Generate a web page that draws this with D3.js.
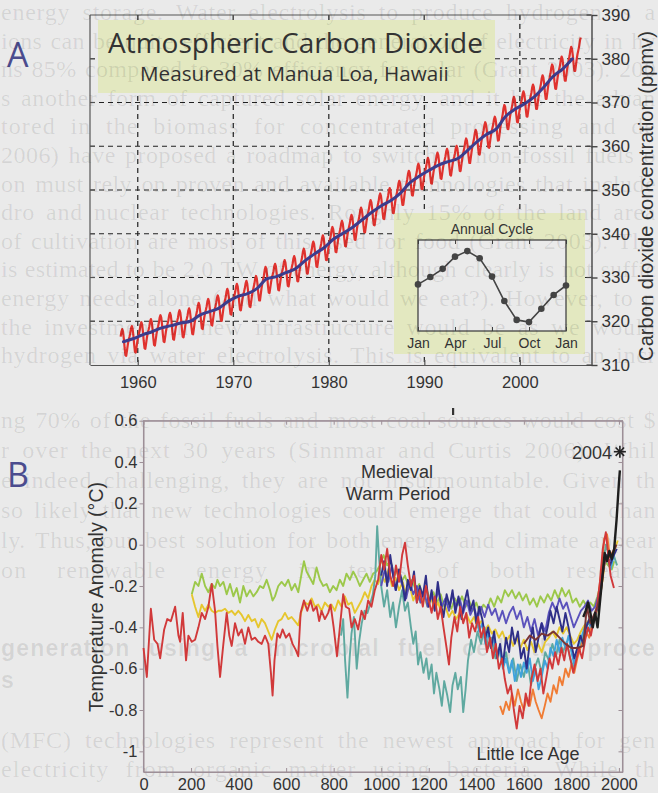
<!DOCTYPE html>
<html>
<head>
<meta charset="utf-8">
<script src="https://cdn.jsdelivr.net/npm/d3@7"></script>
<style>
  body { margin: 0; background: #eaeaea; }
  svg { display: block; }
</style>
</head>
<body>
<div id="chart"></div>
<script>
// ---------- panel A data: Mauna Loa CO2 (ppmv) ----------
const co2Years = [1958, 1959, 1960, 1961, 1962, 1963, 1964, 1965, 1966, 1967, 1968, 1969,
  1970, 1971, 1972, 1973, 1974, 1975, 1976, 1977, 1978, 1979, 1980, 1981, 1982, 1983,
  1984, 1985, 1986, 1987, 1988, 1989, 1990, 1991, 1992, 1993, 1994, 1995, 1996, 1997,
  1998, 1999, 2000, 2001, 2002, 2003, 2004, 2005, 2006];
const co2Annual = [315.3, 316.0, 316.9, 317.6, 318.5, 319.0, 319.6, 320.0, 321.4, 322.2,
  323.0, 324.6, 325.7, 326.3, 327.5, 329.7, 330.2, 331.1, 332.0, 333.8, 335.4, 336.8,
  338.8, 340.1, 341.5, 343.2, 344.9, 346.4, 347.6, 349.3, 351.7, 353.2, 354.5, 355.7,
  356.5, 357.2, 359.0, 361.0, 362.7, 363.9, 366.8, 368.5, 369.7, 371.3, 373.5, 376.0,
  377.7, 380.0, 382.1];
const trendLastYear = 2005;
const monthlyStart = 1958.2, monthlyEnd = 2006.4;

// annual cycle (deviation from yearly mean, ppmv), Jan..Dec, Jan
const cycleMonths = ["Jan", "Feb", "Mar", "Apr", "May", "Jun", "Jul", "Aug", "Sep", "Oct", "Nov", "Dec", "Jan"];
const cycleValues = [0, 0.66, 1.4, 2.5, 3.0, 2.35, 0.7, -1.5, -3.2, -3.4, -2.2, -0.95, -0.1];
const cycleTicks = [0, 3, 6, 9, 12];

const aTicksY = [310, 320, 330, 340, 350, 360, 370, 380, 390];
const aGridY = [320, 330, 340, 350, 360, 370, 380];
const aTicksX = [1960, 1970, 1980, 1990, 2000];

// ---------- panel B data: temperature reconstructions (year, deg C) ----------
const moberg = [[0,-0.50],[14,-0.64],[31,-0.31],[45,-0.46],[59,-0.48],[70,-0.55],[87,-0.41],[100,-0.36],
  [115,-0.37],[133,-0.30],[147,-0.44],[154,-0.47],[165,-0.33],[179,-0.56],[189,-0.44],[203,-0.47],
  [217,-0.46],[231,-0.40],[245,-0.33],[259,-0.36],[273,-0.30],[287,-0.19],[301,-0.32],[311,-0.49],
  [322,-0.64],[336,-0.48],[350,-0.33],[361,-0.44],[371,-0.49],[385,-0.38],[399,-0.44],[413,-0.41],
  [427,-0.48],[441,-0.40],[455,-0.46],[469,-0.45],[483,-0.47],[497,-0.48],[511,-0.44],[525,-0.48],
  [536,-0.62],[543,-0.73],[551,-0.56],[563,-0.43],[574,-0.45],[585,-0.41],[599,-0.45],[613,-0.43],
  [627,-0.48],[641,-0.51],[651,-0.54],[661,-0.33],[675,-0.27],[689,-0.32],[703,-0.27],[714,-0.32],
  [728,-0.30],[739,-0.37],[749,-0.32],[763,-0.36],[777,-0.33],[787,-0.29],[800,-0.40],[814,-0.54],
  [826,-0.40],[840,-0.24],[851,-0.30],[865,-0.31],[875,-0.40],[889,-0.36],[903,-0.41],[917,-0.32],
  [931,-0.36],[945,-0.27],[959,-0.30],[973,-0.22],[987,-0.17],[1000,-0.05],[1012,-0.12],[1025,-0.02],
  [1038,-0.15],[1050,-0.20],[1062,-0.10],[1075,-0.18],[1088,-0.05],[1100,0.01],[1112,-0.10],[1125,-0.20],
  [1138,-0.15],[1150,-0.28],[1162,-0.22],[1175,-0.30],[1188,-0.20],[1200,-0.27],[1212,-0.33],[1225,-0.25],
  [1238,-0.36],[1250,-0.30],[1262,-0.40],[1275,-0.50],[1285,-0.58],[1295,-0.45],[1308,-0.35],[1320,-0.42],
  [1332,-0.30],[1345,-0.38],[1358,-0.33],[1370,-0.45],[1382,-0.38],[1395,-0.42],[1408,-0.35],[1420,-0.45],
  [1432,-0.40],[1445,-0.52],[1458,-0.45],[1470,-0.55],[1482,-0.48],[1495,-0.60],[1508,-0.55],[1520,-0.65],
  [1532,-0.72],[1545,-0.68],[1558,-0.80],[1570,-0.89],[1582,-0.78],[1595,-0.84],[1608,-0.72],[1620,-0.78],
  [1632,-0.65],[1645,-0.58],[1658,-0.66],[1670,-0.60],[1682,-0.72],[1695,-0.64],[1708,-0.55],[1720,-0.60],
  [1732,-0.52],[1745,-0.58],[1758,-0.50],[1770,-0.56],[1782,-0.48],[1795,-0.55],[1808,-0.62],[1820,-0.56],
  [1832,-0.50],[1845,-0.55],[1858,-0.46],[1870,-0.40],[1882,-0.44],[1895,-0.36],[1908,-0.30],[1920,-0.18],
  [1932,-0.02],[1945,0.06],[1955,-0.05],[1965,-0.15],[1979,-0.21]];

const mannJones = [[203,-0.24],[217,-0.18],[231,-0.20],[245,-0.14],[259,-0.20],[273,-0.23],[287,-0.19],
  [301,-0.21],[311,-0.17],[322,-0.20],[336,-0.18],[350,-0.24],[364,-0.19],[378,-0.25],[392,-0.21],
  [406,-0.28],[420,-0.20],[434,-0.25],[448,-0.22],[462,-0.25],[476,-0.23],[490,-0.20],[504,-0.21],
  [518,-0.17],[532,-0.22],[543,-0.27],[553,-0.25],[567,-0.20],[581,-0.18],[595,-0.20],[609,-0.17],
  [623,-0.22],[637,-0.19],[651,-0.23],[665,-0.14],[675,-0.08],[686,-0.13],[700,-0.16],[714,-0.19],
  [728,-0.11],[742,-0.17],[756,-0.20],[770,-0.19],[784,-0.23],[798,-0.20],[812,-0.22],[826,-0.17],
  [840,-0.20],[854,-0.14],[868,-0.17],[882,-0.13],[896,-0.16],[910,-0.20],[924,-0.17],[938,-0.14],
  [952,-0.18],[966,-0.14],[980,-0.13],[994,-0.10],[1010,-0.05],[1025,-0.10],[1040,-0.08],[1055,-0.15],
  [1070,-0.12],[1085,-0.18],[1100,-0.15],[1115,-0.20],[1130,-0.17],[1145,-0.22],[1160,-0.19],[1175,-0.25],
  [1190,-0.21],[1205,-0.27],[1220,-0.23],[1235,-0.28],[1250,-0.24],[1265,-0.30],[1280,-0.27],[1295,-0.31],
  [1310,-0.26],[1325,-0.29],[1340,-0.25],[1355,-0.30],[1370,-0.27],[1385,-0.32],[1400,-0.28],[1415,-0.33],
  [1430,-0.29],[1445,-0.31],[1460,-0.26],[1475,-0.30],[1490,-0.25],[1505,-0.28],[1520,-0.22],[1535,-0.25],
  [1550,-0.22],[1565,-0.26],[1580,-0.23],[1595,-0.27],[1610,-0.24],[1625,-0.29],[1640,-0.26],[1655,-0.30],
  [1670,-0.25],[1685,-0.28],[1700,-0.24],[1715,-0.27],[1730,-0.22],[1745,-0.26],[1760,-0.21],[1775,-0.25],
  [1790,-0.22],[1805,-0.28],[1820,-0.26],[1835,-0.30],[1850,-0.27],[1865,-0.30],[1880,-0.28],[1895,-0.30],
  [1910,-0.25],[1925,-0.18],[1940,-0.08],[1955,-0.10],[1970,-0.12],[1980,-0.08]];

const jonesMann = [[203,-0.24],[217,-0.30],[231,-0.35],[245,-0.29],[259,-0.32],[273,-0.29],[287,-0.32],
  [301,-0.33],[315,-0.32],[329,-0.32],[343,-0.31],[357,-0.33],[371,-0.32],[385,-0.34],[399,-0.32],
  [413,-0.34],[427,-0.37],[441,-0.34],[455,-0.37],[469,-0.36],[483,-0.40],[497,-0.36],[511,-0.38],
  [525,-0.42],[539,-0.46],[553,-0.41],[567,-0.37],[581,-0.36],[595,-0.33],[609,-0.36],[623,-0.35],
  [637,-0.37],[651,-0.39],[665,-0.32],[679,-0.28],[693,-0.29],[707,-0.26],[721,-0.30],[735,-0.29],
  [749,-0.32],[763,-0.28],[777,-0.30],[791,-0.29],[805,-0.32],[819,-0.27],[833,-0.30],[847,-0.25],
  [861,-0.29],[875,-0.28],[889,-0.33],[903,-0.30],[917,-0.27],[931,-0.23],[945,-0.26],[959,-0.20],
  [973,-0.17],[987,-0.19],[1000,-0.14],[1015,-0.18],[1030,-0.12],[1045,-0.20],[1060,-0.16],[1075,-0.22],
  [1090,-0.18],[1105,-0.24],[1120,-0.20],[1135,-0.27],[1150,-0.23],[1165,-0.28],[1180,-0.25],[1195,-0.30],
  [1210,-0.26],[1225,-0.31],[1240,-0.28],[1255,-0.34],[1270,-0.30],[1285,-0.35],[1300,-0.32],[1315,-0.36],
  [1330,-0.33],[1345,-0.37],[1360,-0.34],[1375,-0.38],[1390,-0.35],[1405,-0.40],[1420,-0.37],[1435,-0.42],
  [1450,-0.39],[1465,-0.43],[1480,-0.41],[1495,-0.45],[1510,-0.42],[1525,-0.47],[1540,-0.44],[1555,-0.49],
  [1570,-0.45],[1585,-0.50],[1600,-0.46],[1615,-0.51],[1630,-0.47],[1645,-0.52],[1660,-0.48],[1675,-0.52],
  [1690,-0.47],[1705,-0.45],[1720,-0.42],[1735,-0.45],[1750,-0.40],[1765,-0.43],[1780,-0.40],[1795,-0.44],
  [1810,-0.48],[1825,-0.46],[1840,-0.42],[1855,-0.39],[1870,-0.37],[1885,-0.39],[1900,-0.35],[1915,-0.29],
  [1930,-0.18],[1945,-0.05],[1960,-0.08],[1975,-0.05],[1995,0.02]];

const esper = [[831,-0.44],[840,-0.36],[848,-0.56],[858,-0.74],[867,-0.55],[875,-0.43],[885,-0.35],
  [897,-0.60],[907,-0.47],[918,-0.38],[930,-0.32],[942,-0.33],[955,-0.28],[965,-0.24],[975,-0.15],
  [983,0.09],[990,-0.05],[1000,-0.20],[1012,-0.30],[1025,-0.22],[1038,-0.35],[1050,-0.28],[1062,-0.40],
  [1075,-0.30],[1088,-0.22],[1100,-0.32],[1112,-0.28],[1125,-0.40],[1135,-0.48],[1145,-0.42],[1155,-0.58],
  [1165,-0.52],[1178,-0.62],[1190,-0.55],[1200,-0.65],[1212,-0.58],[1222,-0.72],[1232,-0.62],[1245,-0.70],
  [1255,-0.78],[1265,-0.66],[1278,-0.73],[1290,-0.81],[1300,-0.68],[1312,-0.62],[1322,-0.70],[1335,-0.64],
  [1345,-0.81],[1355,-0.70],[1365,-0.56],[1378,-0.46],[1390,-0.52],[1405,-0.42],[1420,-0.48],[1435,-0.40],
  [1450,-0.50],[1465,-0.45],[1480,-0.55],[1495,-0.50],[1510,-0.58],[1525,-0.52],[1540,-0.62],[1555,-0.55],
  [1570,-0.66],[1585,-0.58],[1600,-0.64],[1615,-0.56],[1630,-0.68],[1645,-0.60],[1660,-0.55],[1675,-0.62],
  [1690,-0.52],[1705,-0.56],[1720,-0.48],[1735,-0.54],[1750,-0.46],[1765,-0.52],[1780,-0.47],[1795,-0.55],
  [1810,-0.60],[1825,-0.52],[1840,-0.48],[1855,-0.42],[1870,-0.38],[1885,-0.40],[1900,-0.33],[1915,-0.25],
  [1930,-0.12],[1945,0.00],[1960,-0.06],[1975,-0.04],[1992,-0.10]];

const jones98 = [[1000,-0.15],[1012,-0.08],[1025,-0.20],[1038,-0.05],[1050,-0.15],[1062,-0.22],[1075,-0.12],
  [1088,-0.18],[1100,-0.27],[1112,-0.17],[1125,-0.22],[1138,-0.13],[1150,-0.28],[1162,-0.20],[1175,-0.25],
  [1188,-0.15],[1200,-0.30],[1212,-0.22],[1225,-0.32],[1238,-0.18],[1250,-0.28],[1262,-0.35],[1275,-0.24],
  [1288,-0.30],[1300,-0.22],[1312,-0.33],[1325,-0.25],[1338,-0.36],[1350,-0.28],[1362,-0.22],[1375,-0.32],
  [1388,-0.27],[1400,-0.38],[1412,-0.30],[1425,-0.36],[1438,-0.45],[1450,-0.40],[1462,-0.50],[1475,-0.42],
  [1488,-0.55],[1500,-0.48],[1512,-0.58],[1525,-0.45],[1538,-0.52],[1550,-0.40],[1562,-0.48],[1575,-0.42],
  [1588,-0.55],[1600,-0.50],[1612,-0.60],[1625,-0.47],[1638,-0.40],[1650,-0.52],[1662,-0.45],[1675,-0.38],
  [1688,-0.46],[1700,-0.40],[1712,-0.32],[1725,-0.38],[1738,-0.30],[1750,-0.36],[1762,-0.42],[1775,-0.33],
  [1788,-0.40],[1800,-0.48],[1812,-0.55],[1825,-0.50],[1838,-0.44],[1850,-0.48],[1862,-0.40],[1875,-0.36],
  [1888,-0.40],[1900,-0.34],[1912,-0.30],[1925,-0.20],[1938,-0.08],[1950,-0.05],[1962,-0.10],[1975,-0.06],
  [1991,-0.02]];

const mann99 = [[1000,-0.20],[1015,-0.12],[1030,-0.18],[1045,-0.10],[1060,-0.22],[1075,-0.15],[1090,-0.20],
  [1105,-0.26],[1120,-0.18],[1135,-0.24],[1150,-0.20],[1165,-0.28],[1180,-0.22],[1195,-0.30],[1210,-0.25],
  [1225,-0.29],[1240,-0.22],[1255,-0.30],[1270,-0.26],[1285,-0.32],[1300,-0.24],[1315,-0.30],[1330,-0.26],
  [1345,-0.33],[1360,-0.27],[1375,-0.34],[1390,-0.30],[1405,-0.36],[1420,-0.30],[1435,-0.35],[1450,-0.29],
  [1465,-0.34],[1480,-0.31],[1495,-0.37],[1510,-0.32],[1525,-0.38],[1540,-0.33],[1555,-0.30],[1570,-0.36],
  [1585,-0.32],[1600,-0.40],[1615,-0.35],[1630,-0.42],[1645,-0.36],[1660,-0.44],[1675,-0.38],[1690,-0.42],
  [1705,-0.33],[1720,-0.28],[1735,-0.32],[1750,-0.26],[1765,-0.31],[1780,-0.28],[1795,-0.34],[1810,-0.40],
  [1825,-0.36],[1840,-0.32],[1855,-0.30],[1870,-0.27],[1885,-0.32],[1900,-0.30],[1915,-0.24],[1930,-0.15],
  [1945,-0.06],[1960,-0.08],[1980,-0.04]];

const crowley = [[1400,-0.35],[1412,-0.42],[1425,-0.38],[1438,-0.48],[1450,-0.42],[1462,-0.50],[1475,-0.45],
  [1488,-0.55],[1500,-0.50],[1512,-0.60],[1525,-0.55],[1538,-0.62],[1550,-0.56],[1562,-0.66],[1575,-0.58],
  [1588,-0.64],[1600,-0.57],[1612,-0.62],[1625,-0.55],[1638,-0.66],[1650,-0.60],[1662,-0.70],[1675,-0.64],
  [1688,-0.56],[1700,-0.60],[1712,-0.50],[1725,-0.54],[1738,-0.46],[1750,-0.52],[1762,-0.45],[1775,-0.50],
  [1788,-0.44],[1800,-0.52],[1812,-0.58],[1825,-0.50],[1838,-0.46],[1850,-0.42],[1862,-0.38],[1875,-0.42],
  [1888,-0.36],[1900,-0.34],[1912,-0.28],[1925,-0.18],[1938,-0.04],[1950,-0.06],[1965,-0.12],[1980,-0.04]];

const huang = [[1500,-0.78],[1512,-0.82],[1525,-0.76],[1538,-0.80],[1550,-0.72],[1562,-0.78],[1575,-0.70],
  [1588,-0.76],[1600,-0.80],[1612,-0.74],[1625,-0.78],[1638,-0.70],[1650,-0.76],[1662,-0.80],[1675,-0.84],
  [1688,-0.78],[1700,-0.72],[1712,-0.76],[1725,-0.68],[1738,-0.72],[1750,-0.64],[1762,-0.68],[1775,-0.60],
  [1788,-0.64],[1800,-0.58],[1812,-0.62],[1825,-0.55],[1838,-0.50],[1850,-0.46],[1862,-0.42],[1875,-0.45],
  [1888,-0.38],[1900,-0.34],[1912,-0.26],[1925,-0.14],[1938,0.03],[1950,0.05],[1962,-0.06],[1980,-0.02]];

const oerlemans = [[1600,-0.48],[1625,-0.44],[1650,-0.46],[1675,-0.43],[1700,-0.44],[1725,-0.42],[1750,-0.45],
  [1775,-0.48],[1800,-0.50],[1825,-0.50],[1850,-0.49],[1865,-0.30],[1880,-0.38],[1895,-0.34],[1910,-0.30],
  [1925,-0.22],[1940,-0.08],[1955,-0.06],[1970,-0.05],[1990,0.00]];

const instrumental = [[1850,-0.35],[1860,-0.32],[1870,-0.28],[1880,-0.33],[1890,-0.40],[1900,-0.33],
  [1910,-0.40],[1920,-0.28],[1930,-0.16],[1940,-0.04],[1950,-0.08],[1960,-0.03],[1970,-0.07],[1980,-0.02],
  [1990,0.12],[2000,0.30],[2004,0.36]];
const mark2004 = [2004, 0.45];

const seriesB = [
  { data: mannJones, color: "#9cc84a" },
  { data: jonesMann, color: "#e6c62e" },
  { data: esper, color: "#5fa9a0" },
  { data: crowley, color: "#3fa3dc" },
  { data: huang, color: "#f07c34" },
  { data: mann99, color: "#5b52bc" },
  { data: jones98, color: "#2f2f88" },
  { data: moberg, color: "#d1393a" },
  { data: oerlemans, color: "#7a3434" },
  { data: instrumental, color: "#1e1e1e" }
];

const bTicksY = [0.6, 0.4, 0.2, 0, -0.2, -0.4, -0.6, -0.8, -1];
const bTickLabels = ["0.6", "0.4", "0.2", "0", "-0.2", "-0.4", "-0.6", "-0.8", "-1"];
const bTicksX = [0, 200, 400, 600, 800, 1000, 1200, 1400, 1600, 1800, 2000];

// faint text of the scanned page behind the figure
const pageLinesTop = [
  "energy storage. Water electrolysis to produce hydrogen is a",
  "ions can be quite efficient and the generation of electricity in hy",
  "ns 85% compared to 30% efficiency for solar (Grant 2003). 200",
  "s another form of captured solar energy, and it has the advan",
  "tored in the biomass for concentrated processing and de",
  "2006) have proposed a roadmap to switch to non-fossil fuels o",
  "on must rely on proven and available technologies that include",
  "dro and nuclear technologies. Roughly 15% of the land area",
  "of cultivation are most of this used for food (Grant 2003). The",
  "is estimated to be 2.0 TW of energy, although clearly is not suffic",
  "energy needs alone (and what would we eat?). However, to p",
  "the investment in new infrastructure would be as we would",
  "hydrogen via water electrolysis. This is equivalent to an incr"
];
const pageLinesBottom = [
  "ng 70% of the fossil fuels and most coal sources would cost $",
  "r over the next 30 years (Sinnmar and Curtis 2006). Whil",
  "e indeed challenging, they are not insurmountable. Given th",
  "so likely that new technologies could emerge that could chan",
  "ly. Thus, our best solution for both energy and climate appear",
  "on renewable energy in terms of both research"
];
const pageHeading = "generation using a microbial fuel cell, the proce";
const pageLinesEnd = [
  "(MFC) technologies represent the newest approach for gen",
  "electricity from organic matter using bacteria. While th"
];

const FONT = "'Liberation Sans', Arial, Helvetica, sans-serif";
const TFONT = "'Open Sans', 'Noto Sans', sans-serif";
const BOX = "#e3e8c0";
const BG = "#eaeaea";

const svg = d3.select("#chart").append("svg")
  .attr("width", 658).attr("height", 793)
  .style("font-family", FONT);

svg.append("rect").attr("width", 658).attr("height", 793).attr("fill", BG);

function fit(sel, w) {
  const len = sel.node().getComputedTextLength();
  sel.attr("font-size", parseFloat(sel.attr("font-size")) * w / len);
}

// ================= Panel A =================
const xA = d3.scaleLinear().domain([1955, 2007.5]).range([90, 591.5]);
const yA = d3.scaleLinear().domain([310, 390]).range([365, 15]);

const gA = svg.append("g");

// dashed grid
gA.selectAll("line.hgrid").data(aGridY).enter().append("line")
  .attr("x1", xA.range()[0]).attr("x2", xA.range()[1])
  .attr("y1", d => yA(d)).attr("y2", d => yA(d))
  .attr("stroke", "#222").attr("stroke-width", 1.2).attr("stroke-dasharray", "5,4");
gA.selectAll("line.vgrid").data(aTicksX).enter().append("line")
  .attr("x1", d => xA(d)).attr("x2", d => xA(d))
  .attr("y1", yA.range()[1]).attr("y2", yA.range()[0])
  .attr("stroke", "#222").attr("stroke-width", 1.2).attr("stroke-dasharray", "5,4");

// title and inset backgrounds
gA.append("rect").attr("x", 98).attr("y", 20).attr("width", 397).attr("height", 73).attr("fill", BOX);
gA.append("rect").attr("x", 394).attr("y", 213).attr("width", 191).attr("height", 141).attr("fill", BOX);

// faint page text, justified across the page width
const page = svg.append("g").attr("font-family", "'Liberation Serif', 'DejaVu Serif', serif")
  .attr("fill", "#000").attr("fill-opacity", 0.095);
function pageLine(t, y, size, opts) {
  const el = page.append("text").attr("x", 1).attr("y", y).attr("font-size", size).text(t);
  if (opts && opts.bold) el.attr("font-family", FONT).attr("font-weight", "bold");
  if (!opts || !opts.short) {
    const len = el.node().getComputedTextLength();
    const gaps = (t.match(/ /g) || []).length;
    if (len > 655) {
      el.attr("textLength", 655).attr("lengthAdjust", "spacingAndGlyphs");
    } else {
      // split the slack between letter spacing and word spacing
      const extra = 655 - len;
      const ls = Math.min(1.2, extra * 0.5 / t.length);
      el.attr("letter-spacing", ls);
      if (gaps > 0) el.attr("word-spacing", (extra - ls * t.length) / gaps);
    }
  }
  return el;
}
pageLinesTop.forEach((t, i) => pageLine(t, 20 + i * 28.6, 24));
pageLinesBottom.forEach((t, i) => pageLine(t, 428 + i * 30, 24));
pageLine(pageHeading, 656, 23, { bold: true });
pageLine("s", 688, 23, { bold: true, short: true });
pageLinesEnd.forEach((t, i) => pageLine(t, 748 + i * 29, 24));

// frame
const frameA = gA.append("g").attr("stroke", "#555").attr("stroke-width", 1.2);
frameA.append("line").attr("x1", xA.range()[0]).attr("x2", xA.range()[0]).attr("y1", yA.range()[1]).attr("y2", yA.range()[0]);
frameA.append("line").attr("x1", xA.range()[0]).attr("x2", xA.range()[1]).attr("y1", yA.range()[1]).attr("y2", yA.range()[1]);

// axes
const axB = gA.append("g").attr("transform", `translate(0,${yA.range()[0]})`)
  .call(d3.axisBottom(xA).tickValues(aTicksX).tickFormat(d3.format("d"))
    .tickSizeInner(-5).tickSizeOuter(0).tickPadding(11));
axB.attr("font-size", 16.5).attr("font-family", FONT);
axB.selectAll("path, line").attr("stroke", "#555").attr("stroke-width", 1.2);
axB.selectAll("text").attr("fill", "#333");

const axR = gA.append("g").attr("transform", `translate(${xA.range()[1]},0)`)
  .call(d3.axisRight(yA).tickValues(aTicksY).tickSizeInner(6).tickSizeOuter(0).tickPadding(4));
axR.attr("font-size", 17).attr("font-family", FONT);
axR.selectAll("path, line").attr("stroke", "#444").attr("stroke-width", 1.4);
axR.selectAll("text").attr("fill", "#333");
// inward ticks on the right axis, left and top frame
gA.selectAll("line.rin").data(aTicksY).enter().append("line")
  .attr("x1", xA.range()[1] - 5).attr("x2", xA.range()[1])
  .attr("y1", d => yA(d)).attr("y2", d => yA(d)).attr("stroke", "#444").attr("stroke-width", 1.2);
gA.selectAll("line.lin").data(aGridY).enter().append("line")
  .attr("x1", xA.range()[0]).attr("x2", xA.range()[0] + 5)
  .attr("y1", d => yA(d)).attr("y2", d => yA(d)).attr("stroke", "#555").attr("stroke-width", 1.2);
gA.selectAll("line.tin").data(aTicksX).enter().append("line")
  .attr("x1", d => xA(d)).attr("x2", d => xA(d))
  .attr("y1", yA.range()[1]).attr("y2", yA.range()[1] + 5).attr("stroke", "#555").attr("stroke-width", 1.2);

const yLabA = gA.append("text")
  .attr("transform", `translate(653,${196}) rotate(-90)`)
  .attr("text-anchor", "middle").attr("font-size", 18).attr("fill", "#333")
  .text("Carbon dioxide concentration (ppmv)");
fit(yLabA, 330);

// data: monthly (trend + annual cycle) and trend
const trend = d3.scaleLinear().domain(co2Years.map(y => y + 0.5)).range(co2Annual);
const monthly = [];
co2Years.forEach(yr => {
  cycleValues.slice(0, 12).forEach((c, m) => {
    const t = yr + (m + 0.5) / 12;
    if (t >= monthlyStart && t <= monthlyEnd) monthly.push([t, trend(t) + c]);
  });
});
const lineA = d3.line().x(d => xA(d[0])).y(d => yA(d[1]));
gA.append("path").datum(monthly).attr("d", lineA)
  .attr("fill", "none").attr("stroke", "#e0322e").attr("stroke-width", 2.2).attr("stroke-linejoin", "round");
const trendPts = co2Years.map((y, i) => [y + 0.5, co2Annual[i]]).filter(d => d[0] <= trendLastYear + 0.5);
gA.append("path").datum(trendPts).attr("d", lineA.curve(d3.curveMonotoneX))
  .attr("fill", "none").attr("stroke", "#3d3d8e").attr("stroke-width", 3).attr("stroke-linecap", "round");

// titles
const t1 = gA.append("text").attr("x", 108).attr("y", 52.5).attr("font-family", TFONT)
  .attr("font-size", 25).attr("fill", "#333").text("Atmospheric Carbon Dioxide");
fit(t1, 375);
const t2 = gA.append("text").attr("x", 140).attr("y", 81).attr("font-family", TFONT)
  .attr("font-size", 17).attr("fill", "#333").text("Measured at Manua Loa, Hawaii");
fit(t2, 309);

gA.append("text").attr("x", 7).attr("y", 67).attr("font-family", TFONT).attr("font-size", 34)
  .attr("fill", "#4b4c8e").text("A");

// inset: annual cycle
const xI = d3.scaleLinear().domain([0, 12]).range([418, 566]);
const yI = d3.scaleLinear().domain([-4.2, 4.0]).range([331, 240]);
const gI = gA.append("g");
gI.append("rect").attr("x", xI.range()[0]).attr("y", yI.range()[1])
  .attr("width", xI.range()[1] - xI.range()[0]).attr("height", yI.range()[0] - yI.range()[1])
  .attr("fill", BG).attr("stroke", "#444").attr("stroke-width", 1.3);
const axI = gI.append("g").attr("transform", `translate(0,${yI.range()[0]})`)
  .call(d3.axisBottom(xI).tickValues(cycleTicks).tickFormat(d => cycleMonths[d])
    .tickSizeInner(-4).tickSizeOuter(0).tickPadding(7));
axI.attr("font-size", 14).attr("font-family", FONT);
axI.select(".domain").remove();
axI.selectAll("line").attr("stroke", "#444");
axI.selectAll("text").attr("fill", "#333");
const axIT = gI.append("g").attr("transform", `translate(0,${yI.range()[1]})`)
  .call(d3.axisTop(xI).tickValues(cycleTicks).tickFormat("").tickSizeInner(-4).tickSizeOuter(0));
axIT.select(".domain").remove();
axIT.selectAll("line").attr("stroke", "#444");

const cyc = cycleValues.map((v, i) => [i, v]);
gI.append("path").datum(cyc)
  .attr("d", d3.line().x(d => xI(d[0])).y(d => yI(d[1])))
  .attr("fill", "none").attr("stroke", "#444").attr("stroke-width", 1.6);
gI.selectAll("circle").data(cyc).enter().append("circle")
  .attr("cx", d => xI(d[0])).attr("cy", d => yI(d[1])).attr("r", 3.3).attr("fill", "#444");
gI.append("text").attr("x", 492).attr("y", 234).attr("text-anchor", "middle")
  .attr("font-size", 14).attr("fill", "#333").text("Annual Cycle");

// ================= Panel B =================
const xB = d3.scaleLinear().domain([0, 2015]).range([143.5, 622.5]);
const yB = d3.scaleLinear().domain([-1.1, 0.6]).range([772, 420.7]);
const gB = svg.append("g");

const frameCol = "#9d8f97";
gB.append("rect").attr("x", xB.range()[0]).attr("y", yB.range()[1])
  .attr("width", xB.range()[1] - xB.range()[0]).attr("height", yB.range()[0] - yB.range()[1])
  .attr("fill", "none").attr("stroke", frameCol).attr("stroke-width", 1.1);

const bl = gB.append("g").attr("transform", `translate(${xB.range()[0]},0)`)
  .call(d3.axisLeft(yB).tickValues(bTicksY).tickFormat((d, i) => bTickLabels[i])
    .tickSizeInner(4).tickSizeOuter(0).tickPadding(2));
bl.attr("font-size", 16.5).attr("font-family", FONT);
bl.selectAll("path, line").attr("stroke", frameCol);
bl.selectAll("text").attr("fill", "#333");

const bb = gB.append("g").attr("transform", `translate(0,${yB.range()[0]})`)
  .call(d3.axisBottom(xB).tickValues(bTicksX).tickFormat(d3.format("d"))
    .tickSizeInner(-4).tickSizeOuter(0).tickPadding(6));
bb.attr("font-size", 16.5).attr("font-family", FONT);
bb.selectAll("path, line").attr("stroke", frameCol);
bb.selectAll("text").attr("fill", "#333");

const bt = gB.append("g").attr("transform", `translate(0,${yB.range()[1]})`)
  .call(d3.axisTop(xB).tickValues(bTicksX).tickFormat("").tickSizeInner(-4).tickSizeOuter(0));
bt.selectAll("path, line").attr("stroke", frameCol);
const br = gB.append("g").attr("transform", `translate(${xB.range()[1]},0)`)
  .call(d3.axisRight(yB).tickValues(bTicksY).tickFormat("").tickSizeInner(-4).tickSizeOuter(0));
br.selectAll("path, line").attr("stroke", frameCol);

const lineB = d3.line().x(d => xB(d[0])).y(d => yB(d[1]));
gB.selectAll("path.series").data(seriesB).enter().append("path")
  .attr("class", "series")
  .attr("d", d => lineB(d.data))
  .attr("fill", "none").attr("stroke", d => d.color)
  .attr("stroke-width", (d, i) => i === seriesB.length - 1 ? 2.4 : 1.9)
  .attr("stroke-linejoin", "round");

// 2004 asterisk
const ax = xB(mark2004[0]), ay = yB(mark2004[1]);
gB.selectAll("line.star").data([0, 45, 90, 135]).enter().append("line")
  .attr("x1", a => ax - 6 * Math.cos(a * Math.PI / 180)).attr("y1", a => ay - 6 * Math.sin(a * Math.PI / 180))
  .attr("x2", a => ax + 6 * Math.cos(a * Math.PI / 180)).attr("y2", a => ay + 6 * Math.sin(a * Math.PI / 180))
  .attr("stroke", "#222").attr("stroke-width", 1.6);

const ann = gB.append("g").attr("font-size", 18).attr("fill", "#333");
ann.append("text").attr("x", 612).attr("y", 458.5).attr("text-anchor", "end").text("2004");
ann.append("text").attr("x", 397).attr("y", 478).attr("text-anchor", "middle").text("Medieval");
ann.append("text").attr("x", 398).attr("y", 500).attr("text-anchor", "middle").text("Warm Period");
ann.append("text").attr("x", 528).attr("y", 760).attr("text-anchor", "middle").text("Little Ice Age");

const yLabB = gB.append("text")
  .attr("transform", `translate(103,597) rotate(-90)`)
  .attr("text-anchor", "middle").attr("font-size", 18).attr("fill", "#333")
  .text("Temperature Anomaly (°C)");
fit(yLabB, 230);

gB.append("text").attr("x", 7).attr("y", 487).attr("font-family", TFONT).attr("font-size", 34)
  .attr("fill", "#4b4c8e").text("B");

// small printing mark above panel B
gB.append("rect").attr("x", 452).attr("y", 408).attr("width", 2.2).attr("height", 7).attr("fill", "#333");
</script>
</body>
</html>
